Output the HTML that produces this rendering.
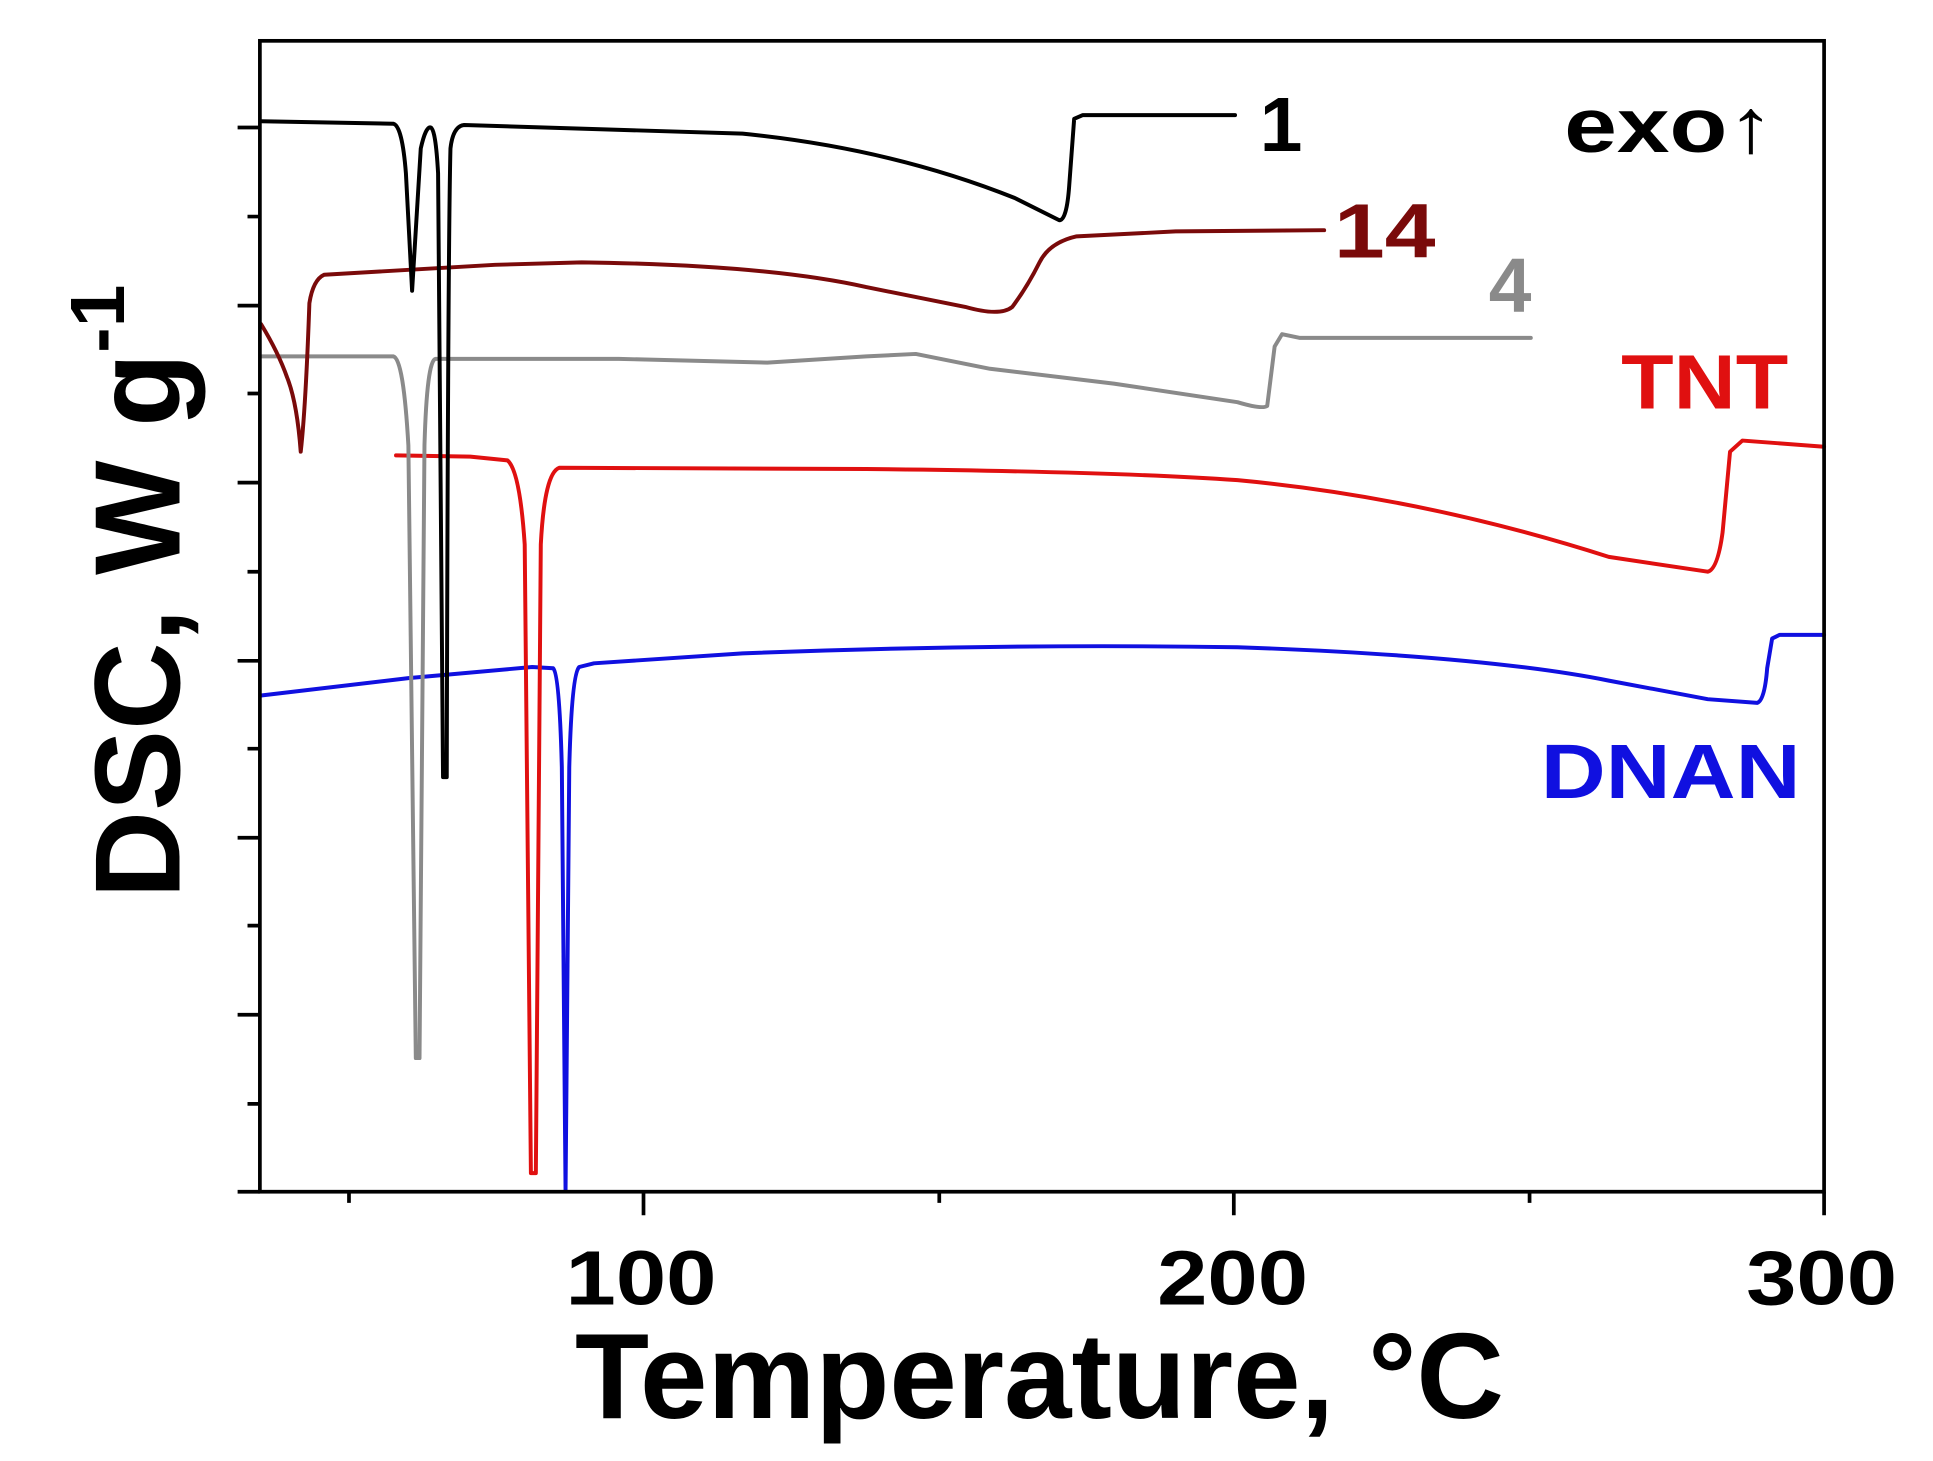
<!DOCTYPE html>
<html><head><meta charset="utf-8"><style>
html,body{margin:0;padding:0;background:#fff;}
svg{display:block;}
text{font-family:"Liberation Sans",Arial,sans-serif;font-weight:bold;}
</style></head><body>
<svg width="1933" height="1461" viewBox="0 0 1562 1180.6" xmlns="http://www.w3.org/2000/svg">
<rect width="1562" height="1181" fill="#fff"/>
<g fill="none" stroke-linejoin="round" stroke-linecap="round" stroke-width="3.2">
<!-- DNAN -->
<path stroke="#1010e0" d="M211,562 L330,548 L430,539 L447,540 Q452,545 454,620 L457,962 L460,620 Q462,545 468,539 L480,536 L600,528 Q800,520 1000,523 Q1200,530 1300,550 L1380,565 L1420,568 Q1426,566 1428,540 L1432,516 L1438,513 L1474,513"/>
<!-- TNT -->
<path stroke="#e01010" d="M320,368 L380,369 L410,372 Q420,380 424,440 L429,948 L433,948 L437,440 Q440,382 452,378 L700,379 Q900,381 1000,388 Q1150,402 1300,450 L1380,462 Q1388,460 1392,430 L1398,365 L1408,356 L1474,361"/>
<!-- 4 gray -->
<path stroke="#8a8a8a" d="M211,288 L318,288 Q326,290 330,360 L336,855 L339,855 L343,360 Q345,291 352,290 L500,290 L620,293 L700,288 L740,286 L800,298 L900,310 L1000,325 Q1020,331 1024,328 L1030,280 L1036,270 L1050,273 L1237,273"/>
<!-- 14 dark red -->
<path stroke="#7a0a0a" d="M211,262 Q225,285 232,305 Q240,325 243,365 Q247,330 250,245 Q253,226 262,222 L400,214 L470,212 Q620,214 700,232 L780,248 Q808,256 818,248 Q830,232 840,212 Q848,196 870,191 L950,187 L1070,186"/>
<!-- 1 black -->
<path stroke="#000" d="M211,98 L318,100 Q325,102 328,140 L333,235 Q337,170 340,120 Q344,102 348,103 Q352,104 354,140 L358,628 L361,628 Q362,200 364,120 Q366,102 375,101 L600,108 Q720,120 820,160 L856,178 Q862,178 864,150 L868,96 L875,93 L998,93"/>
</g>
<!-- axes -->
<g stroke="#000" stroke-width="3" fill="none">
<rect x="210" y="33" width="1264" height="930"/>
<path d="M192,103H210 M200,175H210 M192,247H210 M200,318H210 M192,390H210 M200,462H210 M192,534H210 M200,605H210 M192,677H210 M200,748H210 M192,820H210 M200,892H210 M192,963H210"/>
<path d="M282,963V972 M520,963V982 M759,963V972 M997,963V982 M1236,963V972 M1474,963V982"/>
</g>
<g font-size="62" text-anchor="middle" fill="#000">
<text x="518" y="1054" textLength="122" lengthAdjust="spacingAndGlyphs">100</text>
<text x="996" y="1054" textLength="122" lengthAdjust="spacingAndGlyphs">200</text>
<text x="1472" y="1054" textLength="122" lengthAdjust="spacingAndGlyphs">300</text>
</g>
<text x="840" y="1146" font-size="98" text-anchor="middle">Temperature, °C</text>
<text transform="translate(145,478) rotate(-90)" font-size="98" text-anchor="middle">DSC, W g<tspan font-size="62" dy="-45">-1</tspan></text>
<g font-size="62">
<text x="1018" y="122" fill="#000">1</text>
<text x="1264" y="123" fill="#000" textLength="170" lengthAdjust="spacingAndGlyphs">exo↑</text>
<text x="1078" y="208" fill="#7a0a0a" textLength="82" lengthAdjust="spacingAndGlyphs">14</text>
<text x="1203" y="252" fill="#8a8a8a">4</text>
<text x="1310" y="330" fill="#e01010" textLength="135" lengthAdjust="spacingAndGlyphs">TNT</text>
<text x="1245" y="645" fill="#1010e0" textLength="210" lengthAdjust="spacingAndGlyphs">DNAN</text>
</g>
</svg>
</body></html>
